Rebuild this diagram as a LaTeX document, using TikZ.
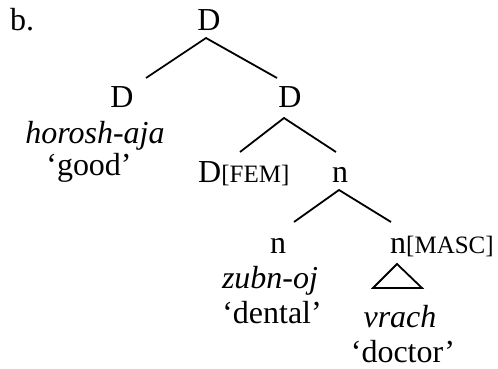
\documentclass[tikz,border=0pt]{standalone}
\usepackage{fontspec}
\setmainfont{Liberation Serif}
\begin{document}
\begin{tikzpicture}[x=1pt,y=-1pt,
  lbl/.style={anchor=base,inner sep=0pt,font=\fontsize{32}{38}\selectfont},
  edge/.style={line width=1.8pt}]
\useasboundingbox (0,0) rectangle (498,369);
\newcommand{\feat}[1]{{\fontsize{25}{28}\selectfont[#1]}}
\node[lbl,anchor=base west] (b) at (10,31) {b.};
\node[lbl] (D0) at (209,31) {D};
\node[lbl] (D1) at (122,107) {D};
\node[lbl] (horosh) at (95,143) {\itshape horosh-aja};
\node[lbl] (good) at (89,175) {‘good’};
\node[lbl] (D2) at (290,107) {D};
\node[lbl,anchor=base west] (DFEM) at (198,182) {D\feat{FEM}};
\node[lbl] (n1) at (340,182) {n};
\node[lbl] (n2) at (278,253) {n};
\node[lbl,anchor=base west] (nMASC) at (390,253) {n\feat{MASC}};
\node[lbl] (zubn) at (270,288) {\itshape zubn-oj};
\node[lbl] (dental) at (272,323) {‘dental’};
\node[lbl] (vrach) at (400,327) {\itshape vrach};
\node[lbl] (doctor) at (403,362) {‘doctor’};
% connector end points
\coordinate (a0) at (206,38);
\coordinate (a0l) at (146,78);
\coordinate (a0r) at (277,78);
\coordinate (a2) at (284,118);
\coordinate (a2l) at (240,152);
\coordinate (a2r) at (336,152);
\coordinate (a1) at (339,190);
\coordinate (a1l) at (294,222);
\coordinate (a1r) at (391,222);
\coordinate (t0) at (397,264);
\coordinate (tl) at (373,288);
\coordinate (tr) at (422,288);
\draw[edge] (a0l) -- (a0) -- (a0r);
\draw[edge] (a2l) -- (a2) -- (a2r);
\draw[edge] (a1l) -- (a1) -- (a1r);
\draw[edge,line join=miter] (t0) -- (tl) -- (tr) -- cycle;
\end{tikzpicture}
\end{document}
